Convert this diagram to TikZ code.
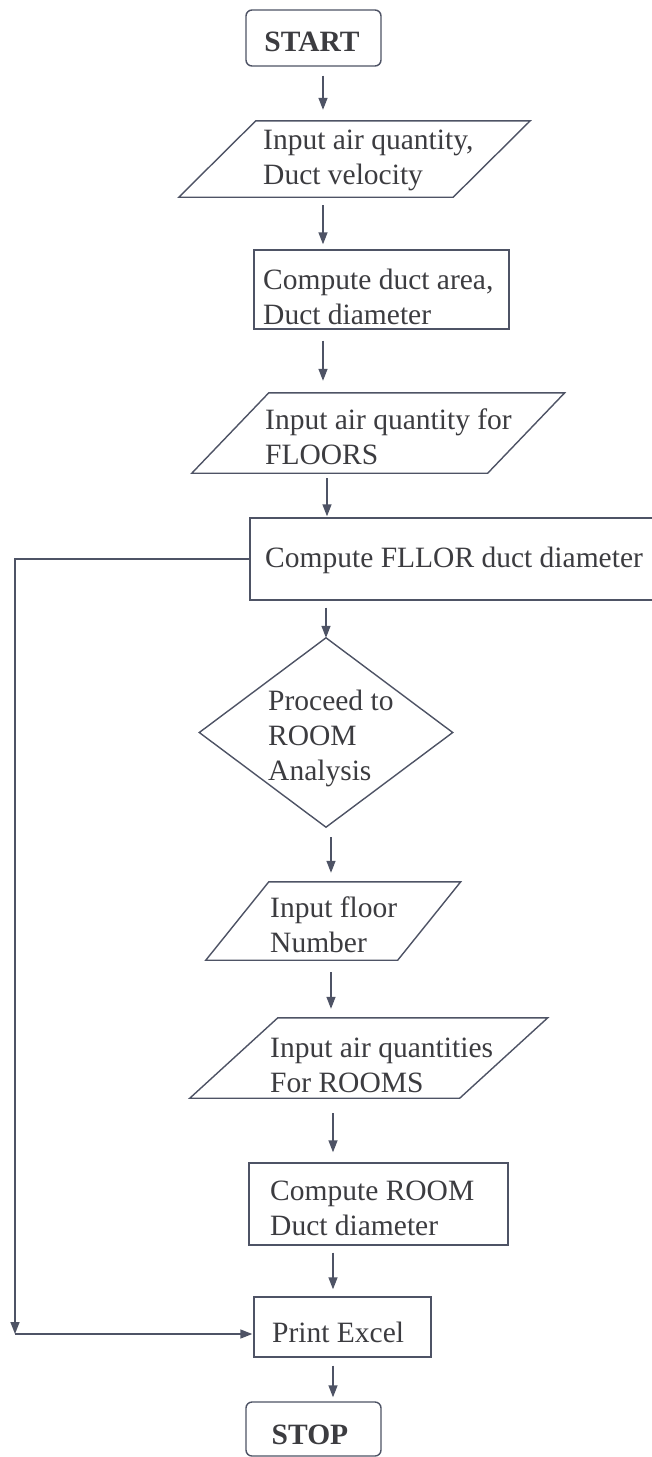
\documentclass[tikz,border=0pt]{standalone}
\usepackage{fontspec}
\setmainfont{Liberation Serif}
\usetikzlibrary{arrows.meta}
\definecolor{linec}{HTML}{4E5365}
\definecolor{textc}{HTML}{3C3C40}
\tikzset{
  box/.style={draw=linec, line width=1.4pt, inner sep=0pt, rectangle},
  term/.style={box, rounded corners=6pt},
  ghost/.style={draw=none, inner sep=0pt, rectangle},
  outline/.style={draw=linec, line width=1.4pt, line join=miter},
  txt/.style={anchor=west, align=left, inner sep=0pt, text=textc,
    font=\fontsize{29.5}{35}\selectfont},
  ttxt/.style={inner sep=0pt, text=textc, font=\fontsize{29.5}{35}\selectfont\bfseries},
  arr/.style={draw=linec, line width=1.4pt, -{Triangle[length=12pt,width=9pt]}},
  feed/.style={draw=linec, line width=1.4pt},
}
\begin{document}
\begin{tikzpicture}[x=1pt,y=-1pt]
\useasboundingbox (0,0) rectangle (652,1457);
\clip (0,0) rectangle (652,1457);
\fill[white] (0,0) rectangle (652,1457);
% column coordinates for the connectors
\coordinate (colA) at (323,0);
\coordinate (colB) at (327,0);
\coordinate (colC) at (331,0);
\coordinate (colD) at (333,0);
\coordinate (loopx) at (15,0);

% START
\node[term, minimum width=135pt, minimum height=56pt] (start) at (313.5,38) {};
\node[ttxt] (startt) at (312,42) {START};

% parallelogram 1
\node[ghost, minimum width=274pt, minimum height=76pt] (p1) at (354.5,159) {};
\draw[outline] ([xshift=38.5pt]p1.north west) -- ([xshift=38.5pt]p1.north east)
  -- ([xshift=-38.5pt]p1.south east) -- ([xshift=-38.5pt]p1.south west) -- cycle;
\node[txt] (p1t) at (263,160) {Input air quantity,\\Duct velocity};

% rect: compute duct area
\node[box, minimum width=255pt, minimum height=79pt] (r1) at (381.5,289.5) {};
\node[txt] (r1t) at (263,297) {Compute duct area,\\Duct diameter};

% parallelogram 2
\node[ghost, minimum width=295.5pt, minimum height=80pt] (p2) at (378.25,433) {};
\draw[outline] ([xshift=38.5pt]p2.north west) -- ([xshift=38.5pt]p2.north east)
  -- ([xshift=-38.5pt]p2.south east) -- ([xshift=-38.5pt]p2.south west) -- cycle;
\node[txt] (p2t) at (265,437) {Input air quantity for\\FLOORS};

% rect: compute FLLOR (runs past the right edge)
\node[box, minimum width=430pt, minimum height=82pt] (fl) at (465,559) {};
\node[txt] (flt) at (265,560) {Compute FLLOR duct diameter};

% diamond
\node[ghost, minimum width=253pt, minimum height=189pt] (dm) at (326,732.5) {};
\draw[outline] (dm.north) -- (dm.east) -- (dm.south) -- (dm.west) -- cycle;
\node[txt] (dmt) at (268,738) {Proceed to\\ROOM\\Analysis};

% parallelogram 3
\node[ghost, minimum width=191.5pt, minimum height=78pt] (p3) at (333.25,921) {};
\draw[outline] ([xshift=31.5pt]p3.north west) -- ([xshift=31.5pt]p3.north east)
  -- ([xshift=-31.5pt]p3.south east) -- ([xshift=-31.5pt]p3.south west) -- cycle;
\node[txt] (p3t) at (270,925) {Input floor\\Number};

% parallelogram 4
\node[ghost, minimum width=269.5pt, minimum height=80pt] (p4) at (368.75,1058) {};
\draw[outline] ([xshift=44pt]p4.north west) -- ([xshift=44pt]p4.north east)
  -- ([xshift=-44pt]p4.south east) -- ([xshift=-44pt]p4.south west) -- cycle;
\node[txt] (p4t) at (270,1065) {Input air quantities\\For ROOMS};

% rect: compute ROOM
\node[box, minimum width=259pt, minimum height=82pt] (r2) at (378.5,1204) {};
\node[txt] (r2t) at (270,1208) {Compute ROOM\\Duct diameter};

% print excel
\node[box, minimum width=177pt, minimum height=60pt] (pr) at (342.5,1327) {};
\node[txt] (prt) at (272,1332) {Print Excel};

% STOP
\node[term, minimum width=135pt, minimum height=54pt] (stop) at (313.5,1429) {};
\node[ttxt] (stopt) at (310,1435) {STOP};

% connectors
\draw[arr, shorten <=9pt, shorten >=11pt] (start.south -| colA) -- (p1.north -| colA);
\draw[arr, shorten <=8pt, shorten >=5pt] (p1.south -| colA) -- (r1.north -| colA);
\draw[arr, shorten <=11pt, shorten >=12pt] (r1.south -| colA) -- (p2.north -| colA);
\draw[arr, shorten <=5pt, shorten >=1pt] (p2.south -| colB) -- (fl.north -| colB);
\draw[arr, shorten <=7pt] (fl.south -| dm.north) -- (dm.north);
\draw[arr, shorten <=10pt, shorten >=9pt] (dm.south -| colC) -- (p3.north -| colC);
\draw[arr, shorten <=12pt, shorten >=9pt] (p3.south -| colC) -- (p4.north -| colC);
\draw[arr, shorten <=15pt, shorten >=10pt] (p4.south -| colD) -- (r2.north -| colD);
\draw[arr, shorten <=7pt, shorten >=7pt] (r2.south -| colD) -- (pr.north -| colD);
\draw[arr, shorten <=8pt, shorten >=4pt] (pr.south -| colD) -- (stop.north -| colD);

% feedback loop
\coordinate (lt) at (fl.west -| loopx);
\coordinate (lb) at (15,1334);
\draw[arr] (fl.west) -- (lt) -- (lb);
\draw[arr, shorten >=1pt] (lb) -- (lb -| pr.west);
\end{tikzpicture}
\end{document}
